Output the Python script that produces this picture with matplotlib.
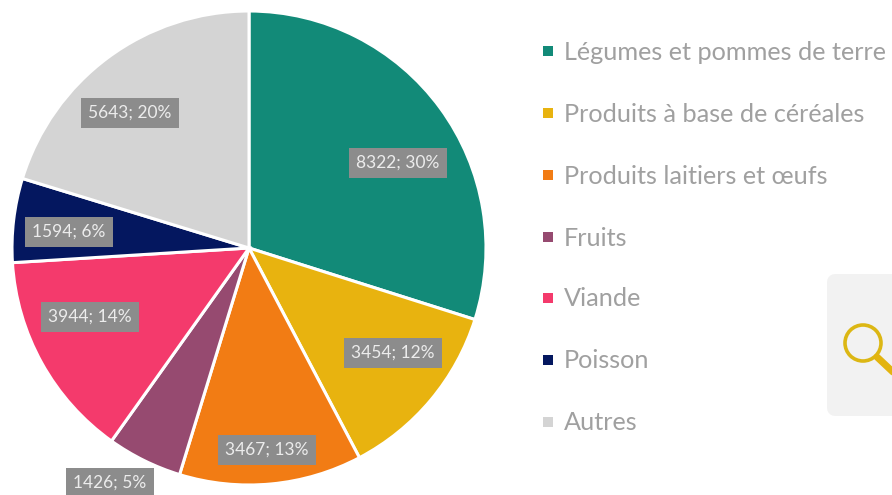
import matplotlib
matplotlib.use('Agg')
import matplotlib.pyplot as plt
from matplotlib.patches import FancyBboxPatch, Circle

plt.rcParams['font.family'] = ['Lato', 'DejaVu Sans']

categories = ['Légumes et pommes de terre', 'Produits à base de céréales',
              'Produits laitiers et œufs', 'Fruits', 'Viande', 'Poisson', 'Autres']
values = [8322, 3454, 3467, 1426, 3944, 1594, 5643]
percents = [30, 12, 13, 5, 14, 6, 20]
colors = ['#128a78', '#e8b30f', '#f27c14', '#964a70', '#f43a6c', '#04175f', '#d4d4d4']

# label centres, in pixels of the picture
label_x = [398, 393, 267, 110, 90, 69, 130]
label_y = [163, 353, 450, 483, 317, 232, 113]
legend_y = [51, 113, 175, 237, 298, 360, 422]

W, H = 892, 495
fig = plt.figure(figsize=(W / 100, H / 100), dpi=100)
ax = fig.add_axes([0, 0, 1, 1])

ax.pie(values, colors=colors, startangle=90, counterclock=False,
       center=(249, H - 248), radius=237, frame=True,
       wedgeprops={'edgecolor': 'white', 'linewidth': 2.2})
ax.set_xlim(0, W)
ax.set_ylim(0, H)
ax.set_aspect('equal')
ax.axis('off')

for x, y, v, p in zip(label_x, label_y, values, percents):
    ax.text(x, H - y, '%d; %d%%' % (v, p), color='#ececec', fontsize=12.5,
            ha='center', va='center', zorder=5,
            bbox={'boxstyle': 'square,pad=0.4', 'facecolor': '#8c8c8c', 'edgecolor': 'none'})

for y, name, c in zip(legend_y, categories, colors):
    ax.scatter([548], [H - y], marker='s', s=62, color=c, linewidths=0)
    ax.text(564, H - y - 1, name, color='#a0a0a0', fontsize=18.2, va='center', ha='left')

# search icon panel on the right edge
ax.add_patch(FancyBboxPatch((835, H - 408), 80, 126, boxstyle='round,pad=0,rounding_size=0',
                            facecolor='#f2f2f2', edgecolor='#f2f2f2', linewidth=11.5,
                            joinstyle='round', zorder=1))
ax.add_patch(Circle((863, H - 343), 18, facecolor='none', edgecolor='#dcb714',
                    linewidth=2.6, zorder=2))
ax.plot([877, 894], [H - 357, H - 373], color='#e3b40f', linewidth=5,
        solid_capstyle='round', zorder=2)

fig.savefig('out.png', dpi=100)
